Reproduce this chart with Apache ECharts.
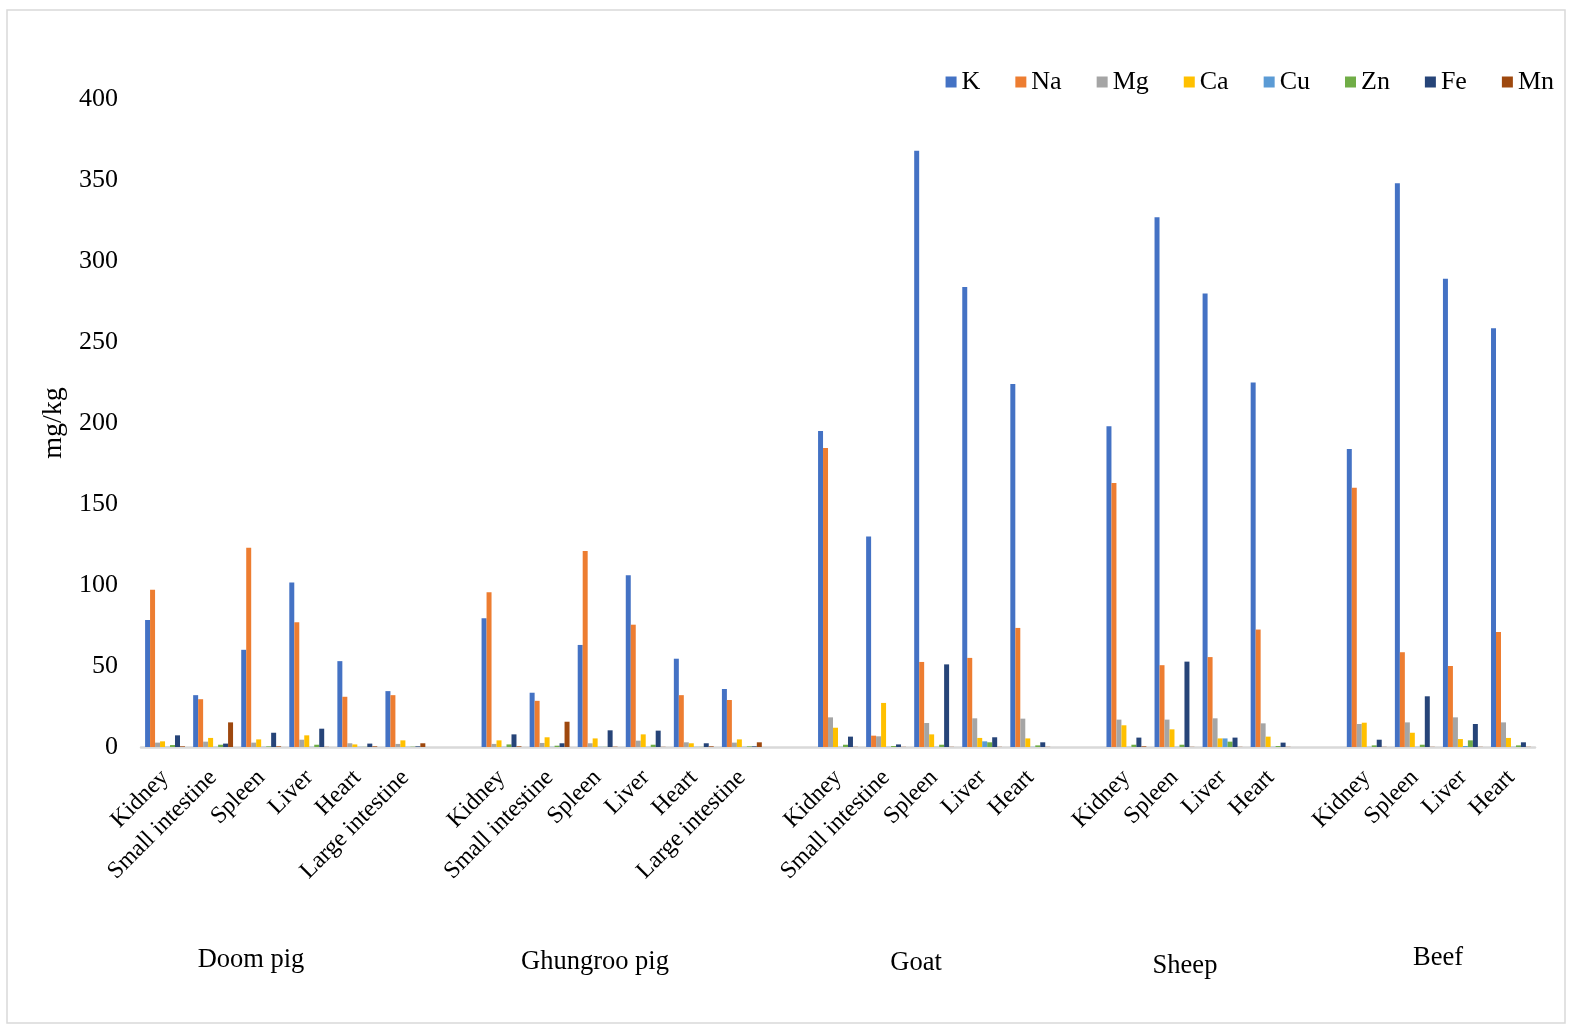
<!DOCTYPE html>
<html>
<head>
<meta charset="utf-8">
<title>Mineral content of organ meats</title>
<script src="https://cdn.jsdelivr.net/npm/echarts@6/dist/echarts.min.js"></script>
<style>
  html, body { margin: 0; padding: 0; background: #ffffff; }
  #chart { width: 1569px; height: 1026px; }
</style>
</head>
<body>
<div id="chart"></div>
<script>
// Organ categories; empty strings leave a blank slot between animal groups
const organs = [
  'Kidney', 'Small intestine', 'Spleen', 'Liver', 'Heart', 'Large intestine', '',
  'Kidney', 'Small intestine', 'Spleen', 'Liver', 'Heart', 'Large intestine', '',
  'Kidney', 'Small intestine', 'Spleen', 'Liver', 'Heart', '',
  'Kidney', 'Spleen', 'Liver', 'Heart', '',
  'Kidney', 'Spleen', 'Liver', 'Heart'
];

const animals = ['Doom pig', 'Ghungroo pig', 'Goat', 'Sheep', 'Beef'];

const elements = ['K', 'Na', 'Mg', 'Ca', 'Cu', 'Zn', 'Fe', 'Mn'];

// mg/kg, one value per organ slot (null in blank slots)
const K  = [78.4, 32, 60, 101.5, 53, 34.5, null,
            79.5, 33.5, 63, 106, 54.5, 35.8, null,
            195, 130, 368, 284, 224, null,
            198, 327, 280, 225, null,
            184, 348, 289, 258.5];
const Na = [97, 29.5, 123, 77, 31, 32, null,
            95.5, 28.5, 121, 75.5, 32, 29, null,
            184.5, 7, 52.5, 55, 73.5, null,
            163, 50.5, 55.5, 72.5, null,
            160, 58.5, 50, 71];
const Mg = [2.7, 3.3, 2.7, 4.5, 2.3, 1.9, null,
            1.9, 2.5, 2.3, 3.9, 2.9, 2.7, null,
            18.3, 6.6, 14.8, 17.7, 17.5, null,
            16.9, 16.9, 17.7, 14.6, null,
            14.2, 15.2, 18.3, 15.2];
const Ca = [3.5, 5.6, 4.7, 7.2, 1.6, 4.1, null,
            4.1, 6.0, 5.3, 7.8, 2.3, 4.7, null,
            11.9, 27.2, 7.8, 5.6, 5.3, null,
            13.4, 10.9, 5.3, 6.4, null,
            15.0, 8.8, 4.9, 5.6];
const Cu = [0.1, 0.1, 0.1, 0.1, 0.1, 0.1, null,
            0.1, 0.1, 0.1, 0.1, 0.1, 0.1, null,
            0.1, 0.1, 0.1, 3.5, 0.1, null,
            0.1, 0.1, 5.3, 0.1, null,
            0.1, 0.1, 0.6, 0.1];
const Zn = [1.2, 1.4, 0.4, 1.4, 0.1, 0.2, null,
            1.6, 0.8, 0.1, 1.4, 0.1, 0.4, null,
            1.4, 0.6, 1.4, 2.9, 1.0, null,
            1.4, 1.4, 3.3, 0.6, null,
            1.0, 1.4, 4.1, 1.0];
const Fe = [7.2, 2.1, 8.8, 11.3, 2.1, 0.4, null,
            7.8, 2.3, 10.3, 10.1, 2.3, 0.4, null,
            6.4, 1.6, 51.0, 6.0, 2.9, null,
            5.8, 52.7, 5.8, 2.7, null,
            4.5, 31.3, 14.2, 2.9];
const Mn = [0.4, 15.2, 0.4, 0.1, 0.4, 2.3, null,
            0.4, 15.6, 0.2, 0.1, 0.4, 2.9, null,
            0.1, 0.1, 0.1, 0.1, 0.1, null,
            0.4, 0.1, 0.1, 0.1, null,
            0.1, 0.1, 0.1, 0.1];

const yTicks = { min: 0, max: 400, interval: 50 };

const seriesValues = [K, Na, Mg, Ca, Cu, Zn, Fe, Mn];
const colors = ['#4472C4', '#ED7D31', '#A5A5A5', '#FFC000', '#5B9BD5', '#70AD47', '#264478', '#9E480E'];

const SERIF = '"Liberation Serif", "Times New Roman", serif';

const chart = echarts.init(document.getElementById('chart'), null, { renderer: 'canvas' });

// Animal group captions under the organ labels
const groupCaptionPos = [
  { x: 251, y: 960 },
  { x: 595, y: 962 },
  { x: 916, y: 963 },
  { x: 1185, y: 966 },
  { x: 1438, y: 958 }
];

const option = {
  backgroundColor: '#ffffff',
  animation: false,
  color: colors,
  grid: { left: 141, right: 34, top: 99, bottom: 279, containLabel: false },
  legend: {
    data: elements,
    top: 64,
    right: 10,
    itemWidth: 11,
    itemHeight: 11,
    itemGap: 35,
    icon: 'rect',
    textStyle: { fontFamily: SERIF, fontSize: 26, color: '#000000' }
  },
  xAxis: {
    type: 'category',
    data: organs,
    axisLine: { show: true, lineStyle: { color: '#D9D9D9', width: 2.5 } },
    axisTick: { show: false },
    splitLine: { show: false },
    axisLabel: {
      interval: 0,
      rotate: 45,
      margin: 27,
      fontFamily: SERIF,
      fontSize: 24,
      color: '#000000'
    }
  },
  yAxis: {
    type: 'value',
    min: yTicks.min,
    max: yTicks.max,
    interval: yTicks.interval,
    name: 'mg/kg',
    nameLocation: 'middle',
    nameGap: 73,
    nameRotate: 90,
    nameTextStyle: { fontFamily: SERIF, fontSize: 28, color: '#000000' },
    axisLine: { show: false },
    axisTick: { show: false },
    splitLine: { show: false },
    axisLabel: { margin: 23, fontFamily: SERIF, fontSize: 26, color: '#000000' }
  },
  series: elements.map((name, i) => ({
    name: name,
    type: 'bar',
    data: seriesValues[i],
    barGap: '0%',
    barCategoryGap: '17%',
    itemStyle: { color: colors[i] }
  })),
  graphic: animals.map((name, i) => ({
    type: 'text',
    silent: true,
    x: groupCaptionPos[i].x,
    y: groupCaptionPos[i].y,
    style: {
      text: name,
      fontFamily: SERIF,
      fontSize: 26.5,
      fill: '#000000',
      align: 'center',
      verticalAlign: 'middle'
    }
  })).concat([{
    type: 'rect',
    silent: true,
    shape: { x: 7, y: 10, width: 1558, height: 1013 },
    style: { fill: 'none', stroke: '#D9D9D9', lineWidth: 1.5 }
  }])
};

chart.setOption(option);
</script>
</body>
</html>
